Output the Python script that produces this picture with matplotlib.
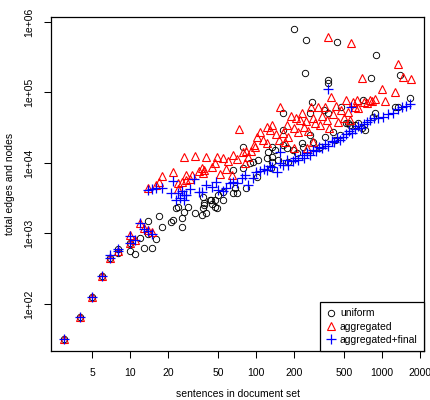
import matplotlib
matplotlib.use("Agg")
import matplotlib.pyplot as plt
from matplotlib.ticker import NullLocator

plt.rcParams['font.family'] = ['Liberation Sans', 'DejaVu Sans']

# ---- data (sentences, total edges and nodes) ----
uniform_x = [3, 4, 5, 6, 7, 8, 8, 10, 10, 11, 12, 13, 14, 15, 16, 14, 17, 18, 21, 22,
             26, 26, 27, 29, 33, 38, 39, 47, 49, 55, 24, 23, 38, 39, 44, 47, 50, 55, 66, 68,
             70, 84, 40, 37, 43, 45, 66, 79, 90, 104, 122, 125, 135, 165, 79, 95, 102, 132, 150, 180,
             195, 165, 280, 270, 375, 345, 165, 270, 353, 285, 410, 470, 540, 142, 135, 135, 230, 235, 210, 322,
             175, 424, 464, 890, 810, 1390, 1670, 700, 1270, 1350, 880, 611, 650, 557, 733, 520, 850, 690,
             200, 250, 440, 245, 375, 375]
uniform_y = [32, 65, 126, 250, 450, 530, 600, 565, 730, 510, 860, 620, 990, 620, 830, 1500, 1770, 1250, 1450, 1550,
             1250, 1650, 2000, 2400, 1950, 2300, 2550, 3000, 2300, 3000, 2400, 2300, 3300, 2700, 3000, 2400, 3500, 3900, 3800, 4400,
             3800, 4400, 1950, 1800, 3000, 2600, 8000, 8500, 10000, 11000, 11600, 14300, 17000, 18000, 17000, 10300, 6300, 8500, 11000, 10300,
             15300, 51000, 73000, 51000, 52000, 56000, 29400, 24900, 23300, 19600, 27500, 62000, 36500, 15300, 12200, 10300, 19200, 17000, 13800, 17000,
             16300, 21000, 25000, 340000, 160000, 177000, 83000, 78000, 63000, 63000, 51000, 34600, 36500, 34600, 29400, 36500, 45000, 31500,
             800000, 556000, 520000, 190000, 150000, 138000]

aggregated_x = [3, 4, 5, 6, 7, 8, 10, 10, 11, 12, 13, 14, 15,
                14, 16, 17, 18, 22, 24, 26, 28, 30, 24, 27, 33, 28, 31, 35, 37, 39, 38, 40, 45, 47, 49,
                52, 55, 58, 60, 64, 66, 70, 73, 79, 82, 84, 86, 92, 96, 98, 102, 108, 113, 122, 122,
                129, 135, 145, 152, 155, 165, 170, 175, 180, 190, 200, 200, 208, 215, 223, 233, 240, 250, 255, 260,
                275, 285, 285, 294, 310, 322, 335, 353, 365, 380, 395, 410, 430, 450, 470, 500, 520, 540, 557, 590,
                611, 630, 650, 690, 720, 760, 803, 830, 880, 1000, 1060, 1270, 1350, 1480, 1690, 375, 570]
aggregated_y = [32, 65, 126, 250, 450, 565, 730, 950, 810, 1400, 1200, 1120, 1050,
                4400, 4900, 5300, 6600, 7400, 5200, 5300, 5800, 6000, 4250, 12200, 12400, 6800, 6800, 7700, 8500, 8000, 7300, 12200, 8900, 10000, 12000,
                7000, 11700, 8200, 10800, 6800, 13000, 11500, 30000, 14300, 10000, 14800, 12000, 14800, 18000, 16800, 23300, 27500, 21200, 32000, 19200,
                29400, 34600, 26000, 21200, 62000, 26500, 19600, 34600, 23300, 46000, 31000, 16300, 43500, 27500, 40700, 51000, 32700, 39000, 16300, 28500,
                62000, 43500, 19600, 36500, 62000, 34600, 46000, 62000, 40700, 31000, 85000, 50000, 64000, 38500, 56500, 43500, 78000, 53000, 40700, 73000,
                62000, 78000, 61000, 160000, 73000, 71000, 78000, 76000, 81000, 112000, 76000, 100000, 250000, 165000, 155000, 620000, 500000]

final_x = [3, 4, 5, 6, 7, 7, 8, 8, 10, 10, 11, 12, 13, 14, 15,
           14, 15, 16, 18, 21, 22, 23, 24, 25, 26, 27, 27, 28, 30, 32, 35, 37, 40, 45, 48,
           50, 55, 58, 62, 66, 70, 78, 82, 86, 95, 100, 108, 115, 122, 129, 135, 147, 155, 155, 165,
           175, 180, 195, 204, 215, 230, 240, 255, 268, 285, 300, 315, 335, 353, 375, 400, 415, 440, 464, 490,
           520, 545, 575, 611, 650, 680, 720, 760, 803, 865, 930, 1020, 1110, 1220, 1330, 1440, 1560, 1670, 375, 570]
final_y = [32, 65, 126, 250, 450, 500, 565, 600, 730, 920, 810, 1400, 1160, 1090, 980,
           4100, 4300, 4400, 4400, 3800, 5600, 3000, 3800, 3200, 4000, 3500, 3000, 3500, 4300, 6000, 3900, 3900, 4900, 4600, 5300,
           4100, 4000, 4400, 5200, 5400, 5200, 6100, 6800, 4900, 6100, 7400, 7700, 8200, 8000, 9000, 8800, 7400, 10000, 14500, 9500,
           11000, 9300, 10500, 11800, 11000, 12800, 11800, 13800, 13000, 15300, 14900, 17000, 16500, 18600, 17500, 20300, 19600, 22500, 21200, 23600,
           25500, 28000, 26800, 30500, 33500, 31500, 35600, 38000, 40700, 43500, 43500, 45000, 49500, 52000, 58000, 62000, 64000, 68000, 112000, 62000]

series_labels = ["uniform", "aggregated", "aggregated+final"]
x_ticks = [5, 10, 20, 50, 100, 200, 500, 1000, 2000]
x_tick_labels = ["5", "10", "20", "50", "100", "200", "500", "1000", "2000"]
y_ticks = [1e2, 1e3, 1e4, 1e5, 1e6]
y_tick_labels = ["1e+02", "1e+03", "1e+04", "1e+05", "1e+06"]

fig = plt.figure(figsize=(4.3, 4.0), dpi=100)
ax = fig.add_axes([51/430, 1-351/400, (424-51)/430, (351-17)/400])

ax.plot(uniform_x, uniform_y, linestyle='none', marker='o', markersize=4.6,
        markerfacecolor='none', markeredgecolor='black', markeredgewidth=0.65, label=series_labels[0])
ax.plot(aggregated_x, aggregated_y, linestyle='none', marker='^', markersize=5.4,
        markerfacecolor='none', markeredgecolor='#ff0000', markeredgewidth=0.8, label=series_labels[1])
ax.plot(final_x, final_y, linestyle='none', marker='+', markersize=6.5,
        markeredgecolor='#0000ff', markeredgewidth=0.9, label=series_labels[2])

ax.set_xscale('log')
ax.set_yscale('log')
ax.set_xlim(10**0.373, 10**3.333)
ax.set_ylim(10**1.333, 10**6.071)
ax.xaxis.set_minor_locator(NullLocator())
ax.yaxis.set_minor_locator(NullLocator())
ax.set_xticks(x_ticks)
ax.set_xticklabels(x_tick_labels)
ax.set_yticks(y_ticks)
ax.set_yticklabels(y_tick_labels, rotation=90, va='center')
ax.tick_params(axis='both', direction='out', length=5, width=0.75, labelsize=7.5, pad=7)
for s in ax.spines.values():
    s.set_linewidth(0.9)

fig.text((51+424)/2/430, 1-394/400, "sentences in document set", ha='center', va='center', fontsize=7.5)
fig.text(10/430, 1-184/400, "total edges and nodes", ha='center', va='center', rotation=90, fontsize=7.5)

leg = ax.legend(loc='lower right', borderaxespad=0, fancybox=False, frameon=True,
                edgecolor='black', fontsize=7.5, handlelength=0.8, handletextpad=0.5,
                labelspacing=0.3, borderpad=0.6, framealpha=1)
leg.get_frame().set_linewidth(0.9)

fig.savefig("out.png", dpi=100)
